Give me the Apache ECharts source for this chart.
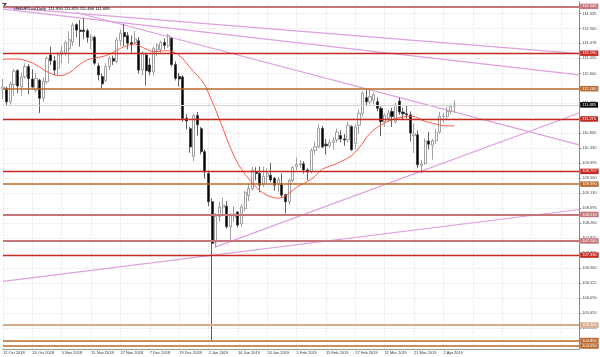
<!DOCTYPE html>
<html><head><meta charset="utf-8">
<script src="https://cdn.jsdelivr.net/npm/echarts@6/dist/echarts.min.js"></script>
<style>html,body{margin:0;padding:0;background:#fff}#c{width:600px;height:357px}</style>
</head><body><div id="c"></div>
<script>
const dates = ['12 Oct 2018','15 Oct 2018','16 Oct 2018','17 Oct 2018','18 Oct 2018','19 Oct 2018','22 Oct 2018','23 Oct 2018','24 Oct 2018','25 Oct 2018','26 Oct 2018','29 Oct 2018','30 Oct 2018','31 Oct 2018','1 Nov 2018','2 Nov 2018','5 Nov 2018','6 Nov 2018','7 Nov 2018','8 Nov 2018','9 Nov 2018','12 Nov 2018','13 Nov 2018','14 Nov 2018','15 Nov 2018','16 Nov 2018','19 Nov 2018','20 Nov 2018','21 Nov 2018','22 Nov 2018','23 Nov 2018','26 Nov 2018','27 Nov 2018','28 Nov 2018','29 Nov 2018','30 Nov 2018','3 Dec 2018','4 Dec 2018','5 Dec 2018','6 Dec 2018','7 Dec 2018','10 Dec 2018','11 Dec 2018','12 Dec 2018','13 Dec 2018','14 Dec 2018','17 Dec 2018','18 Dec 2018','19 Dec 2018','20 Dec 2018','21 Dec 2018','24 Dec 2018','26 Dec 2018','27 Dec 2018','28 Dec 2018','31 Dec 2018','2 Jan 2019','3 Jan 2019','4 Jan 2019','7 Jan 2019','8 Jan 2019','9 Jan 2019','10 Jan 2019','11 Jan 2019','14 Jan 2019','15 Jan 2019','16 Jan 2019','17 Jan 2019','18 Jan 2019','21 Jan 2019','22 Jan 2019','23 Jan 2019','24 Jan 2019','25 Jan 2019','28 Jan 2019','29 Jan 2019','30 Jan 2019','31 Jan 2019','1 Feb 2019','4 Feb 2019','5 Feb 2019','6 Feb 2019','7 Feb 2019','8 Feb 2019','11 Feb 2019','12 Feb 2019','13 Feb 2019','14 Feb 2019','15 Feb 2019','18 Feb 2019','19 Feb 2019','20 Feb 2019','21 Feb 2019','22 Feb 2019','25 Feb 2019','26 Feb 2019','27 Feb 2019','28 Feb 2019','1 Mar 2019','4 Mar 2019','5 Mar 2019','6 Mar 2019','7 Mar 2019','8 Mar 2019','11 Mar 2019','12 Mar 2019','13 Mar 2019','14 Mar 2019','15 Mar 2019','18 Mar 2019','19 Mar 2019','20 Mar 2019','21 Mar 2019','22 Mar 2019','25 Mar 2019','26 Mar 2019','27 Mar 2019','28 Mar 2019','29 Mar 2019','1 Apr 2019','2 Apr 2019','3 Apr 2019','4 Apr 2019','5 Apr 2019'];
const futureSlots = 34;

// [open, close, low, high]
const ohlc = [
[112.15,112.21,111.85,112.45],[112.17,111.78,111.68,112.22],[111.78,112.30,111.70,112.36],[112.28,112.67,111.95,112.73],
[112.69,112.24,112.03,112.72],[112.22,112.50,111.95,112.63],[112.51,112.80,112.45,112.90],[112.80,112.45,112.00,112.87],
[112.44,112.21,112.15,112.72],[112.12,112.46,112.05,112.62],[112.41,111.88,111.45,112.45],[111.88,112.38,111.78,112.48],
[112.36,113.04,112.30,113.10],[113.14,112.97,112.85,113.38],[112.97,112.70,112.55,113.10],[112.75,113.14,112.55,113.22],
[113.14,113.25,112.90,113.40],[113.19,113.50,113.10,113.55],[113.32,113.58,112.90,113.82],[113.52,114.00,113.40,114.08],
[114.02,113.86,113.65,114.06],[113.86,113.82,113.38,114.15],[113.86,113.82,113.60,114.20],[113.84,113.65,113.50,113.90],
[113.57,113.67,113.30,113.75],[113.65,112.90,112.85,113.70],[112.82,112.56,112.40,112.90],[112.51,112.30,112.17,112.60],
[112.40,112.80,112.35,112.90],[112.80,113.04,112.70,113.10],[113.04,112.96,112.85,113.12],[112.95,113.57,112.90,113.65],
[113.55,113.77,113.40,113.87],[113.79,113.67,113.40,114.04],[113.70,113.48,113.30,113.80],[113.50,113.43,113.20,113.70],
[113.50,113.60,113.45,113.83],[113.55,112.70,112.60,113.65],[112.70,113.19,112.55,113.25],[113.14,112.68,112.25,113.20],
[112.85,112.65,112.55,113.05],[112.65,113.33,112.55,113.38],[113.30,113.42,113.10,113.48],[113.30,113.50,113.20,113.55],
[113.50,113.42,113.30,113.62],[113.40,113.70,113.35,113.75],[113.62,112.86,112.80,113.65],[112.86,112.46,112.40,112.95],
[112.52,112.44,112.22,112.62],[112.50,111.30,111.20,112.55],[111.30,111.22,110.98,111.42],[111.00,110.47,110.30,111.05],
[110.20,111.38,110.05,111.42],[111.38,111.11,110.80,111.48],[111.00,110.33,110.25,111.05],[110.33,109.75,109.55,110.40],
[109.70,108.88,108.75,109.78],[108.88,107.67,104.85,108.98],[107.70,108.45,107.55,108.55],[108.45,108.73,108.30,108.88],
[108.72,108.78,108.48,108.99],[108.75,108.15,108.10,108.90],[108.15,108.47,107.77,108.55],[108.43,108.52,108.30,108.75],
[108.58,108.20,108.13,108.60],[108.24,108.73,108.15,108.80],[108.68,109.15,108.60,109.20],[109.06,109.26,108.90,109.40],
[109.25,109.80,109.20,109.89],[109.75,109.70,109.50,109.88],[109.70,109.36,109.15,109.90],[109.38,109.62,109.30,109.90],
[109.62,109.70,109.40,109.85],[109.65,109.51,109.45,110.00],[109.56,109.36,109.20,109.60],[109.38,109.52,109.15,109.60],
[109.40,109.07,109.00,109.70],[109.08,108.88,108.54,109.10],[108.88,109.50,108.80,109.55],[109.50,109.87,109.45,109.92],
[109.90,109.96,109.80,110.16],[109.95,109.98,109.85,110.09],[109.98,109.80,109.70,110.05],[109.80,109.75,109.50,109.85],
[109.75,110.37,109.70,110.42],[110.37,110.47,110.25,110.63],[110.47,111.01,110.43,111.13],[111.01,110.47,110.43,111.08],
[110.55,110.50,110.25,110.70],[110.50,110.60,110.45,110.70],[110.60,110.65,110.40,110.75],[110.67,110.90,110.60,111.00],
[110.80,110.70,110.60,110.95],[110.70,110.67,110.50,110.85],[110.67,111.10,110.60,111.20],[111.06,110.39,110.35,111.10],
[110.57,111.05,110.40,111.12],[111.10,111.45,110.85,111.55],[111.45,112.03,111.35,112.08],[111.90,111.78,111.65,112.13],
[111.78,111.93,111.70,112.15],[111.83,111.98,111.70,112.05],[111.78,111.59,111.50,111.90],[111.59,111.20,110.78,111.65],
[111.20,111.39,111.05,111.45],[111.30,111.45,111.20,111.55],[111.50,111.35,111.05,111.60],[111.20,111.68,111.15,111.75],
[111.80,111.48,111.40,111.90],[111.48,111.43,111.25,111.60],[111.43,111.40,111.30,111.68],[111.40,110.87,110.63,111.50],
[110.80,110.85,110.30,111.15],[110.82,109.95,109.85,110.95],[109.93,109.98,109.70,110.10],[109.99,110.64,109.95,110.72],
[110.64,110.55,110.40,110.90],[110.52,110.65,110.10,110.70],[110.65,110.88,110.55,111.00],[110.90,111.35,110.85,111.49],
[111.35,111.36,111.17,111.45],[111.35,111.50,111.25,111.63],[111.50,111.65,111.42,111.70],[111.650,111.685,111.466,111.825]
];

const ma = [113.01,113.02,113.02,113.02,113.02,113.01,112.98,112.95,112.91,112.85,112.79,112.71,112.65,112.60,112.56,112.54,
112.54,112.57,112.62,112.69,112.78,112.87,112.94,113.00,113.03,113.05,113.07,113.09,113.12,113.16,113.21,113.27,
113.33,113.38,113.42,113.45,113.46,113.41,113.36,113.31,113.26,113.24,113.24,113.25,113.26,113.26,113.24,113.20,
113.13,113.03,112.90,112.77,112.65,112.54,112.42,112.27,112.03,111.78,111.53,111.26,110.98,110.70,110.43,110.20,
109.98,109.82,109.67,109.54,109.42,109.30,109.20,109.12,109.06,109.02,108.99,108.98,109.00,109.05,109.13,109.21,
109.30,109.36,109.41,109.47,109.53,109.62,109.73,109.82,109.87,109.91,109.95,109.99,110.04,110.09,110.15,110.22,
110.32,110.44,110.58,110.74,110.86,110.96,111.04,111.10,111.17,111.22,111.26,111.30,111.32,111.34,111.36,111.36,
111.35,111.32,111.25,111.21,111.18,111.16,111.13,111.10,111.09,111.08,111.08,111.08];

const yTickLabels = ['114.335','113.900','113.478','113.055','112.600','112.165','111.735','111.300','110.865','110.430','109.995','109.560','109.130','108.695','108.260','107.825','107.395','106.960','106.525','106.090','105.655','105.220'];

// horizontal levels
const levelValues = [114.545,113.190,112.160,111.275,109.757,109.390,108.510,107.740,107.330,105.300,104.850,104.690];
const levelKinds  = ['rosy','red','brown','red','red','brown','rosy','rosy','red','light','brown','brown'];
const lastPrice = 111.685;

// trend lines: [startIndex, startPrice, endIndex, endPrice]
const trendLines = [
 [0,114.52,157,113.18],
 [0,114.47,157,112.56],
 [20,114.37,157,110.53],
 [58,107.57,157,111.454],
 [0,106.569,157,108.653]
];

const titleText = 'USDJPY.cd,Daily  111.650 111.825 111.466 111.685';

const kindStyle = {
  rosy:{c:'#C4767C',w:2}, red:{c:'#C42A22',w:1.3}, brown:{c:'#BA6A2E',w:1.6}, light:{c:'#D6AC8E',w:2}
};
const FONT = 'Liberation Sans';
const cats = dates.concat(new Array(futureSlots).fill(''));
const tickVals = yTickLabels.map(Number);

const markData = levelValues.map((v,i)=>{
  const s = kindStyle[levelKinds[i]];
  return {yAxis:v, lineStyle:{color:s.c,width:s.w,type:'solid'},
    label:{show:true,position:'end',distance:1,formatter:()=>v.toFixed(3),color:'#fff',backgroundColor:s.c,
      fontSize:4,fontFamily:FONT,padding:[1,2,0.5,2],lineHeight:4}};
});
markData.push({yAxis:lastPrice,lineStyle:{color:'#d4d4d4',width:1,type:'solid'},
  label:{show:true,position:'end',distance:1,formatter:()=>lastPrice.toFixed(3),color:'#fff',backgroundColor:'#000',
    fontSize:4,fontFamily:FONT,padding:[1,2,0.5,2],lineHeight:4}});

const series = [
  {type:'candlestick',data:ohlc,barWidth:2.6,silent:true,
   itemStyle:{color:'#ffffff',color0:'#000000',borderColor:'#8a8a8a',borderColor0:'#3a3a3a',borderWidth:0.8},
   markLine:{symbol:'none',silent:true,animation:false,data:markData},z:3},
  {type:'line',data:ma,showSymbol:false,symbol:'none',silent:true,lineStyle:{color:'#FF5a4a',width:1},z:4}
];
trendLines.forEach(t=>{
  series.push({type:'line',data:[[t[0],t[1]],[t[2],t[3]]],showSymbol:false,symbol:'none',silent:true,
    lineStyle:{color:'#DDA0DD',width:1.2},z:2});
});

const chart = echarts.init(document.getElementById('c'),null,{renderer:'canvas'});
chart.setOption({
  animation:false,
  backgroundColor:'#fff',
  title:{text:titleText,left:9,top:2,textStyle:{fontSize:4.2,fontWeight:'normal',color:'#000',fontFamily:FONT}},
  grid:{left:0.5,right:20.8,top:2,bottom:8,containLabel:false},
  xAxis:{type:'category',data:cats,boundaryGap:false,
    axisLine:{show:true,lineStyle:{color:'#9a9a9a'}},axisTick:{show:false},
    axisLabel:{interval:7,align:'left',fontSize:4,color:'#333',margin:2,fontFamily:FONT,showMaxLabel:false},
    splitLine:{show:true,interval:7,lineStyle:{color:'#e6e6e6',type:'dotted',width:1}}},
  yAxis:{type:'value',position:'right',min:104.604,max:114.676,scale:true,
    axisLine:{show:true,lineStyle:{color:'#8a8a8a'}},
    axisTick:{show:true,length:2,customValues:tickVals,lineStyle:{color:'#8a8a8a'}},
    axisLabel:{customValues:tickVals,formatter:v=>Number(v).toFixed(3),fontSize:4,color:'#444',margin:3,fontFamily:FONT},
    splitLine:{show:true,lineStyle:{color:'#e6e6e6',type:'dotted',width:1}}},
  graphic:[{type:'polygon',shape:{points:[[2,3],[7,3],[4.5,7]]},style:{fill:'#555'}}],
  series
});
</script></body></html>
